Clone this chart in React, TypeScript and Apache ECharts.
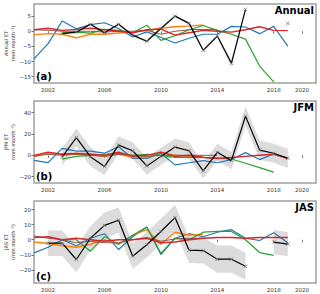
import React, { useEffect, useRef } from "react";
import * as echarts from "echarts";

const years = [2001, 2002, 2003, 2004, 2005, 2006, 2007, 2008, 2009, 2010, 2011, 2012, 2013, 2014, 2015, 2016, 2017, 2018, 2019];
const xTicks = [2002, 2006, 2010, 2014, 2018, 2020];

// Annual
const blueA = [-9.1, -4.1, 3.4, 0.8, 2.2, 2.8, 0.9, -1.9, -0.2, -2.0, -3.9, -2.3, -1.0, -1.0, 1.6, 1.4, -0.8, 1.6, -4.9];
const orangeA = [-1.2, -0.8, -1.0, -2.2, -1.0, -1.0, -0.6, -0.3, 0.3, 1.0, 1.5, 1.7, 2.1, null, null, null, null, null, null];
const greenA = [null, null, -0.5, -0.3, -0.6, 0.6, 0.3, -0.5, 2.0, -3.0, -1.5, 0.5, 1.9, 0.3, -1.0, -2.6, -11.5, -16.7, null];
const redA = [0.5, 1.0, 0.3, 0.6, 1.0, 0.5, 0.0, -0.5, 0.5, 0.7, -1.3, -0.5, 0.3, 0.0, -0.3, 0.5, 1.5, 0.3, 0.2];
const brownA = [0.5, 0.3, 0.0, 0.0, 0.0, -0.3, 0.0, 0.0, 0.3, -1.0, 0.0, 0.5, 0.6, 0.5, null, null, null, null, null];
const blackA = [null, null, -0.8, -0.3, 2.3, -0.5, 2.3, -1.3, -3.3, 0.9, 5.0, 2.6, -6.3, -1.6, -10.6, 7.2, null, null, 2.6];
const errA = [null, null, 0.4, 0.4, 0.4, 0.4, 0.4, 0.4, 0.4, 0.4, 0.4, 0.4, 0.5, 0.5, 1.2, 0.6, null, null, null];

// JFM
const blueJ = [-4.7, -6.8, 6.5, 4, 4, 2, 8, -3, -3, 2, -9, -7, -5, -7, -4, 2.5, -4, 1.2, -2.5];
const orangeJ = [-1, 2, 1, 1, 1, -1, 1, -2, -2, 3, 0, -1, -1, null, null, null, null, null, null];
const greenJ = [null, null, -3.5, -1, 0, 1, 2, 0, 1, 0, -2, -2, -2, -2.5, -3.5, -7.5, -11.5, -15.8, null];
const redJ = [0, 3, 1, 2, 1, 0, 3, -1, 0, 3, -1, 0, -2, -3, -2, -1, 0, 1, -3];
const brownJ = [-1, 1, 0, 1, 0, -1, 1, 0, -1, 0, 0, 0, 0, 0, null, null, null, null, null];
const blackJ = [null, null, -1.6, 16.7, -1.3, -10.6, 9.6, 4.3, -10, -1, 7.7, 4.3, -14.6, 2.8, -5, 36.8, 4.9, 1.9, -2.8];
const errJ = [null, null, 8, 8.5, 9, 8, 8, 8, 8, 8, 8, 8, 7, 8, 8, 9, 9, 9, 9];

// JAS
const blueS = [-8.7, -5, 0, -4, 1, 4, -6.5, 2, 8.4, -9.8, 1, 4, 2, 5, 6.7, 1, -0.5, 4.7, -2];
const orangeS = [-1.5, -2.5, -4, -5, -3, 0, -3, 3, 6.7, -3, 5, 3, 3.5, null, null, null, null, null, null];
const greenS = [null, null, 0, 0, -7.6, 2, -3, 3, 8.5, -9, 1, 0, 5, 5.5, 5.5, 0, -8.5, -10.4, null];
const redS = [1.5, 2, 0, 1, 0, -1, 0, 0, 1, -2, -1.5, 0, 1, 1.5, 1.5, 1, 1.5, 1.5, 1.5];
const brownS = [2.5, 1, 0, -2, -1, -2, -2, 0, 1.5, -1, 0.5, 1, 1, null, null, null, null, null, null];
const blackS = [null, -2.3, -2.3, -13.1, 1, 9.5, 12.9, -10.9, -3.3, 5.5, 14.7, -6.9, -7.2, -12.9, -12.9, -17.6, null, -1.6, -2.9];
const errS = [null, 8.5, 8.5, 8.5, 8, 8.5, 8.5, 8.5, 8.5, 8.5, 8.5, 8.5, 8.5, 9, 9, 9, null, 8, 8];

const panels = [
  { name: "Annual", letter: "(a)", ylabel: "Annual ET", min: -17.1, max: 9, ticks: [-15, -10, -5, 0, 5], blue: blueA, orange: orangeA, green: greenA, red: redA, brown: brownA, black: blackA, err: errA },
  { name: "JFM", letter: "(b)", ylabel: "JFM ET", min: -26, max: 51, ticks: [-20, 0, 20, 40], blue: blueJ, orange: orangeJ, green: greenJ, red: redJ, brown: brownJ, black: blackJ, err: errJ },
  { name: "JAS", letter: "(c)", ylabel: "JAS ET", min: -28.7, max: 25.7, ticks: [-20, -10, 0, 10, 20], blue: blueS, orange: orangeS, green: greenS, red: redS, brown: brownS, black: blackS, err: errS },
];

const grids = [
  { left: 34, top: 4, width: 282, height: 79 },
  { left: 34, top: 101, width: 282, height: 82 },
  { left: 34, top: 201, width: 282, height: 82 },
];

const FONT = "DejaVu Sans";

function pairs(vals: (number | null)[]) {
  return years.map((y, i) => [y, vals[i] === null ? "-" : vals[i]]);
}

function bandSegments(vals: (number | null)[], err: (number | null)[]) {
  const segs: { x: number; lo: number; hi: number }[][] = [];
  let cur: { x: number; lo: number; hi: number }[] = [];
  years.forEach((y, i) => {
    const v = vals[i];
    const e = err[i];
    if (v === null || e === null) {
      if (cur.length) segs.push(cur);
      cur = [];
    } else {
      cur.push({ x: y, lo: v - e, hi: v + e });
    }
  });
  if (cur.length) segs.push(cur);
  return segs;
}

export default function App() {
  const ref = useRef<HTMLDivElement>(null);
  useEffect(() => {
    if (!ref.current) return;
    const chart = echarts.init(ref.current, null, { renderer: "svg" });
    const xAxis: any[] = [];
    const yAxis: any[] = [];
    const series: any[] = [];
    const graphic: any[] = [];
    panels.forEach((p, k) => {
      xAxis.push({
        type: "value", gridIndex: k, min: 2001, max: 2021,
        axisLine: { show: false },
        splitLine: { show: false },
        axisTick: { show: true, length: 2.5, customValues: xTicks, lineStyle: { color: "#555", width: 0.8 } },
        axisLabel: { customValues: xTicks, fontSize: 5.5, fontFamily: FONT, color: "#333", margin: 4, formatter: (v: number) => String(v) },
      });
      yAxis.push({
        type: "value", gridIndex: k, min: p.min, max: p.max,
        axisLine: { show: false },
        splitLine: { show: false },
        axisTick: { show: true, length: 2.5, customValues: p.ticks, lineStyle: { color: "#555", width: 0.8 } },
        axisLabel: { customValues: p.ticks, fontSize: 5.5, fontFamily: FONT, color: "#333", margin: 3, formatter: (v: number) => String(v).replace("-", "\u2212") },
      });
      const segs = bandSegments(p.black, p.err);
      series.push({
        type: "custom", xAxisIndex: k, yAxisIndex: k, silent: true, z: 1,
        data: segs.map((s, j) => [s[0].x, s[0].lo, j]),
        encode: { x: 0, y: 1 },
        renderItem: (params: any, api: any) => {
          const s = segs[params.dataIndex];
          const pts: number[][] = [];
          s.forEach((d) => pts.push(api.coord([d.x, d.hi])));
          for (let i = s.length - 1; i >= 0; i--) pts.push(api.coord([s[i].x, s[i].lo]));
          return { type: "polygon", shape: { points: pts }, style: { fill: "#dcdcdc", stroke: "none" } };
        },
      });
      const defs: [(number | null)[], string, number][] = [
        [p.blue, "#1f77b4", 1.2],
        [p.orange, "#ff7f0e", 1.4],
        [p.green, "#2ca02c", 1.2],
        [p.brown, "#8c564b", 1.0],
        [p.red, "#d62728", 1.4],
      ];
      defs.forEach(([vals, color, w]) => {
        series.push({
          type: "line", xAxisIndex: k, yAxisIndex: k, data: pairs(vals), showSymbol: false, z: 2,
          lineStyle: { color, width: w }, itemStyle: { color }, connectNulls: false,
        });
      });
      series.push({
        type: "line", xAxisIndex: k, yAxisIndex: k, data: pairs(p.black), z: 3,
        showSymbol: true, showAllSymbol: true,
        symbol: "path://M0 0L10 10M10 0L0 10", symbolSize: 3.5,
        lineStyle: { color: "#000", width: 1.2 },
        itemStyle: { color: "#000", borderColor: "#777", borderWidth: 0.8 },
        connectNulls: false,
      });
      const g = grids[k];
      graphic.push({
        type: "text", right: 6, top: g.top + 1.5, z: 10,
        style: { text: p.name, font: `bold 10px ${FONT}`, fill: "#000" },
      });
      graphic.push({
        type: "text", left: 36, top: g.top + g.height - 11.5, z: 10,
        style: { text: p.letter, font: `bold 10px ${FONT}`, fill: "#000" },
      });
      const cy = g.top + g.height / 2;
      graphic.push({
        type: "text", x: 5.5, y: cy, rotation: Math.PI / 2, z: 10,
        style: { text: p.ylabel, font: `5px ${FONT}`, fill: "#333", align: "center", verticalAlign: "middle" },
      });
      graphic.push({
        type: "text", x: 13, y: cy, rotation: Math.PI / 2, z: 10,
        style: { text: "(mm month\u207B\u00B9)", font: `5px ${FONT}`, fill: "#333", align: "center", verticalAlign: "middle" },
      });
    });
    chart.setOption({
      animation: false,
      backgroundColor: "#fff",
      grid: grids.map((g) => ({ ...g, show: true, borderColor: "#a0a0a0", borderWidth: 1.5, backgroundColor: "transparent" })),
      xAxis, yAxis, series, graphic,
    });
    return () => chart.dispose();
  }, []);
  return <div ref={ref} style={{ position: "fixed", left: 0, top: 0, width: 320, height: 294 }} />;
}
